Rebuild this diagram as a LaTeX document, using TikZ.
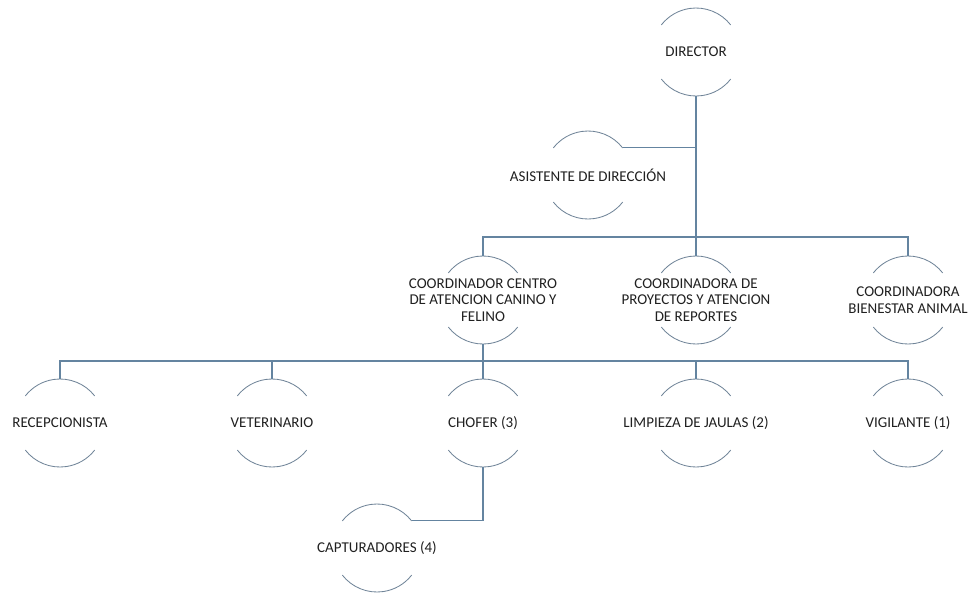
\documentclass[tikz,border=0pt]{standalone}
\usepackage{fontspec}
\setmainfont{Carlito}
\usetikzlibrary{calc}
\definecolor{conncol}{RGB}{100,132,160}
\definecolor{arccol}{RGB}{112,132,152}
\definecolor{txtcol}{RGB}{32,32,32}
\tikzset{
  orgnode/.style={circle,minimum size=88pt,inner sep=0pt,outer sep=0pt,
    label={[txtcol,align=center,font=\fontsize{15pt}{16.5pt}\selectfont,inner sep=0pt]center:#1}},
  conn/.style={draw=conncol,line width=1.15pt},
  arcst/.style={draw=arccol,line width=0.85pt}
}
\begin{document}
\begin{tikzpicture}[x=1pt,y=1pt]
\useasboundingbox (0,0) rectangle (974,-592);
% nodes
\node[orgnode={DIRECTOR}] (dir) at (696,-52) {};
\node[orgnode={ASISTENTE DE DIRECCIÓN}] (asis) at (588,-175) {};
\node[orgnode={COORDINADOR CENTRO\\DE ATENCION CANINO Y\\FELINO}] (ca) at (483,-300) {};
\node[orgnode={COORDINADORA DE\\PROYECTOS Y ATENCION\\DE REPORTES}] (cb) at (696,-300) {};
\node[orgnode={COORDINADORA\\BIENESTAR ANIMAL}] (cc) at (908,-300) {};
\node[orgnode={RECEPCIONISTA}] (rec) at (60,-423) {};
\node[orgnode={VETERINARIO}] (vet) at (272,-423) {};
\node[orgnode={CHOFER (3)}] (cho) at (483,-423) {};
\node[orgnode={LIMPIEZA DE JAULAS (2)}] (lim) at (696,-423) {};
\node[orgnode={VIGILANTE (1)}] (vig) at (908,-423) {};
\node[orgnode={CAPTURADORES (4)}] (cap) at (377,-548) {};
\coordinate (bus2) at (0,-237);
\coordinate (bus3) at (0,-361);
% arcs
\foreach \n in {dir,asis,ca,cb,cc,rec,vet,cho,lim,vig,cap}{
  \draw[arcst] (\n.38) arc[start angle=38,end angle=142,radius=44pt];
  \draw[arcst] (\n.218) arc[start angle=218,end angle=322,radius=44pt];
}
% connectors
\draw[conn] (dir.south) -- (dir |- bus2);
\draw[conn] (asis.38) -- (asis.38 -| dir);
\draw[conn] (ca.north) -- (ca |- bus2) -- (cc |- bus2) -- (cc.north);
\draw[conn] (cb.north) -- (cb |- bus2);
\draw[conn] (ca.south) -- (ca |- bus3);
\draw[conn] (rec.north) -- (rec |- bus3) -- (vig |- bus3) -- (vig.north);
\draw[conn] (vet.north) -- (vet |- bus3);
\draw[conn] (cho.north) -- (cho |- bus3);
\draw[conn] (lim.north) -- (lim |- bus3);
\draw[conn] (cho.south) |- (cap.38);
\end{tikzpicture}
\end{document}
